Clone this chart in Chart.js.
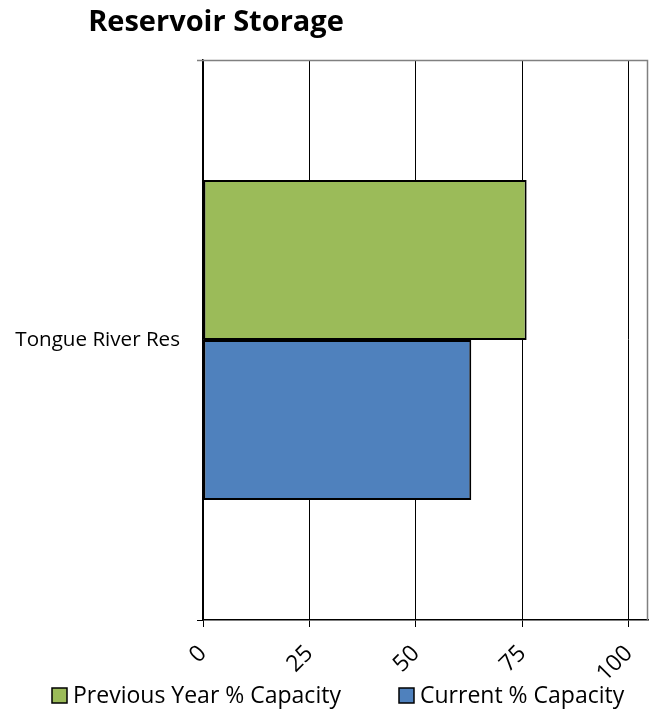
<!DOCTYPE html>
<html>
<head>
<meta charset="utf-8">
<script src="https://cdn.jsdelivr.net/npm/chart.js@4/dist/chart.umd.min.js"></script>
<style>
html,body{margin:0;padding:0;background:#fff;}
#wrap{width:652px;height:709px;position:relative;}
</style>
</head>
<body>
<div id="wrap"><canvas id="c" width="652" height="709"></canvas></div>
<script>
const categories = ["Tongue River Res"];
const seriesNames = ["Previous Year % Capacity", "Current % Capacity"];
const previousYear = [76];
const current = [63];
const xTickValues = [0, 25, 50, 75, 100];
const chartTitle = "Reservoir Storage";

const FONT = "'Open Sans', sans-serif";

const framePlugin = {
  id: 'frame',
  afterDraw(chart) {
    const ctx = chart.ctx, a = chart.chartArea;
    ctx.save();
    ctx.strokeStyle = '#808080';
    ctx.lineWidth = 1.5;
    ctx.beginPath();
    ctx.moveTo(a.left - 6, a.top + 0.5);
    ctx.lineTo(a.right - 0.5, a.top + 0.5);
    ctx.lineTo(a.right - 0.5, a.bottom);
    ctx.stroke();
    // title
    ctx.fillStyle = '#000';
    ctx.font = "bold 29px " + FONT;
    ctx.textAlign = 'center';
    ctx.textBaseline = 'alphabetic';
    ctx.fillText(chartTitle, 216, 31);
    // legend
    ctx.font = "23px " + FONT;
    ctx.textAlign = 'left';
    const items = chart.data.datasets.map(d => ({label: d.label, color: d.backgroundColor}));
    const xs = [52, 399];
    items.forEach((it, i) => {
      const x = xs[i], y = 688;
      ctx.fillStyle = it.color;
      ctx.fillRect(x, y, 15, 15);
      ctx.strokeStyle = '#000';
      ctx.lineWidth = 1.5;
      ctx.strokeRect(x, y, 15, 15);
      ctx.fillStyle = '#000';
      ctx.fillText(it.label, x + 21, 703);
    });
    ctx.restore();
  }
};

new Chart(document.getElementById('c'), {
  type: 'bar',
  data: {
    labels: categories,
    datasets: [
      {label: seriesNames[0], data: previousYear, backgroundColor: '#9BBB59', borderColor: '#000', borderWidth: 2, borderSkipped: false},
      {label: seriesNames[1], data: current, backgroundColor: '#4F81BD', borderColor: '#000', borderWidth: 2, borderSkipped: false}
    ]
  },
  options: {
    indexAxis: 'y',
    responsive: false,
    animation: false,
    maintainAspectRatio: false,
    layout: {padding: {top: 60, right: 4, left: 0, bottom: 0}},
    datasets: {bar: {categoryPercentage: 0.5714, barPercentage: 1}},
    plugins: {legend: {display: false}, title: {display: false}, tooltip: {enabled: false}},
    scales: {
      x: {
        min: 0, max: 104.5,
        afterBuildTicks(scale) { scale.ticks = xTickValues.map(v => ({value: v})); },
        afterFit(scale) { scale.height = 89; scale.paddingLeft = 0; scale.paddingRight = 0; },
        grid: {color: '#000', lineWidth: 1, tickLength: 7, drawTicks: true},
        border: {color: '#000', width: 1.5},
        ticks: {
          color: '#000', font: {family: FONT, size: 23},
          minRotation: 45, maxRotation: 45, padding: 13
        }
      },
      y: {
        afterFit(scale) { scale.width = 203; },
        grid: {display: true, drawOnChartArea: false, offset: true, tickLength: 6, color: '#000'},
        border: {color: '#000', width: 1.5},
        ticks: {color: '#000', font: {family: FONT, size: 20.6}, padding: 17}
      }
    }
  },
  plugins: [framePlugin]
});
</script>
</body>
</html>
